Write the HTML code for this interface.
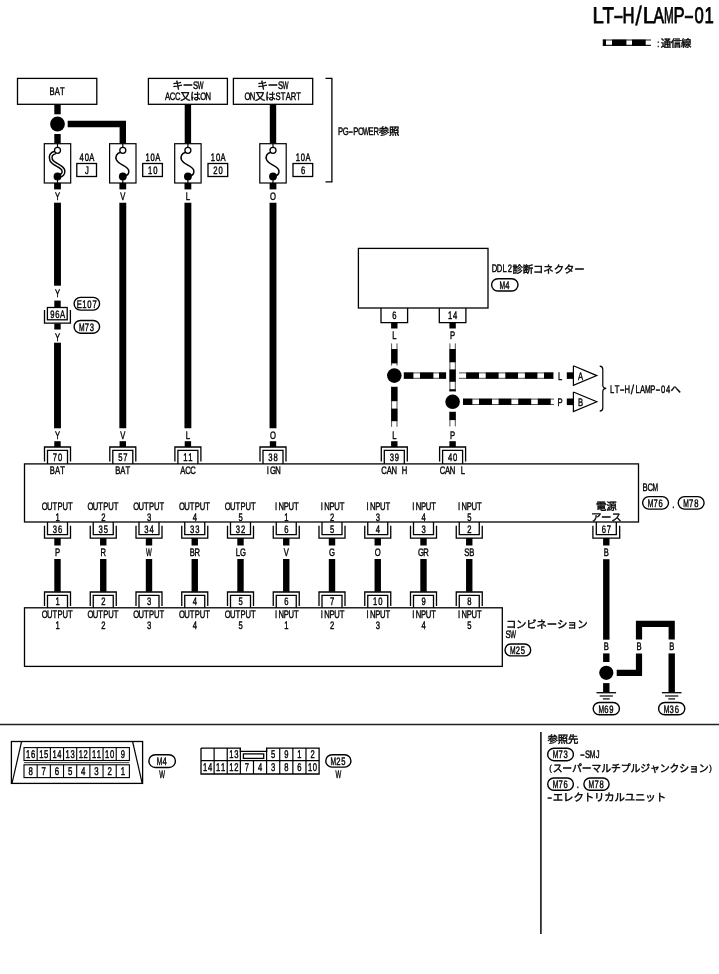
<!DOCTYPE html>
<html lang="ja"><head><meta charset="utf-8"><title>LT-H/LAMP-01</title>
<style>
html,body{margin:0;padding:0;background:#fff;}
body{width:719px;height:974px;overflow:hidden;font-family:"Liberation Sans",sans-serif;}
svg{display:block;filter:grayscale(1);}
svg text{font-family:"Liberation Sans","Noto Sans CJK JP",sans-serif;fill:#000;stroke:#000;stroke-width:0.42px;text-rendering:geometricPrecision;}
</style></head><body>
<svg width="719" height="974" viewBox="0 0 719 974">
<rect width="719" height="974" fill="#fff"/>
<text transform="translate(598.15 23.20) scale(0.903 1.000)" font-size="22.50" text-anchor="middle" x="0" style="stroke-width:0.80px">L</text>
<text transform="translate(608.25 23.20) scale(0.829 1.000)" font-size="22.50" text-anchor="middle" x="0" style="stroke-width:0.80px">T</text>
<text transform="translate(618.35 23.20) scale(1.317 1.000)" font-size="22.50" text-anchor="middle" x="0" style="stroke-width:0.80px">-</text>
<text transform="translate(628.45 23.20) scale(0.740 1)" font-size="22.50" text-anchor="middle" x="0.00" style="stroke-width:0.80px">H</text>
<text transform="translate(638.55 25.11) scale(1.073 1.200)" font-size="22.50" text-anchor="middle" x="0" style="stroke-width:0.25px">/</text>
<text transform="translate(648.65 23.20) scale(0.903 1.000)" font-size="22.50" text-anchor="middle" x="0" style="stroke-width:0.80px">L</text>
<text transform="translate(658.75 23.20) scale(0.703 1.000)" font-size="22.50" text-anchor="middle" x="0" style="stroke-width:0.80px">A</text>
<text transform="translate(668.85 23.20) scale(0.518 1.000)" font-size="22.50" text-anchor="middle" x="0" style="stroke-width:0.80px">M</text>
<text transform="translate(678.95 23.20) scale(0.740 1)" font-size="22.50" text-anchor="middle" x="0.00" style="stroke-width:0.80px">P</text>
<text transform="translate(689.05 23.20) scale(1.317 1.000)" font-size="22.50" text-anchor="middle" x="0" style="stroke-width:0.80px">-</text>
<text transform="translate(699.15 23.20) scale(0.740 1)" font-size="22.50" text-anchor="middle" x="0.00 13.65" style="stroke-width:0.80px">01</text>
<line x1="602.80" y1="40.00" x2="651.00" y2="40.00" stroke="#222" stroke-width="1.10" stroke-linecap="butt"/>
<line x1="602.80" y1="45.40" x2="651.00" y2="45.40" stroke="#222" stroke-width="1.10" stroke-linecap="butt"/>
<line x1="602.80" y1="42.70" x2="606.00" y2="42.70" stroke="#000" stroke-width="6.20" stroke-linecap="butt"/>
<line x1="612.00" y1="42.70" x2="626.40" y2="42.70" stroke="#000" stroke-width="6.20" stroke-linecap="butt"/>
<line x1="632.00" y1="42.70" x2="645.70" y2="42.70" stroke="#000" stroke-width="6.20" stroke-linecap="butt"/>
<text transform="translate(658.30 46.50) scale(0.700 1)" font-size="10.00" text-anchor="middle" x="0.00">:</text>
<text font-size="10.40" x="660.67 670.82 680.97" y="46.70">通信線</text>
<rect x="17.50" y="78.40" width="79.30" height="25.90" fill="none" stroke="#000" stroke-width="1.30"/>
<rect x="148.40" y="78.40" width="79.00" height="25.90" fill="none" stroke="#000" stroke-width="1.30"/>
<rect x="233.40" y="78.40" width="79.30" height="25.90" fill="none" stroke="#000" stroke-width="1.30"/>
<text transform="translate(52.10 95.30) scale(0.700 1)" font-size="10.90" text-anchor="middle" x="0.00 7.29 14.57">BAT</text>
<text font-size="10.40" x="172.50 182.70" y="89.30">キー</text>
<text transform="translate(195.55 88.90) scale(0.700 1)" font-size="10.90" text-anchor="middle" x="0.00">S</text>
<text transform="translate(200.65 88.90) scale(0.560 1.000)" font-size="10.90" text-anchor="middle" x="0">W</text>
<text transform="translate(167.50 99.50) scale(0.700 1)" font-size="10.90" text-anchor="middle" x="0.00 7.29 14.57">ACC</text>
<text font-size="10.40" x="180.15 190.35" y="99.90">又は</text>
<text transform="translate(203.20 99.50) scale(0.700 1)" font-size="10.90" text-anchor="middle" x="0.00 7.29">ON</text>
<text font-size="10.40" x="257.60 267.80" y="89.30">キー</text>
<text transform="translate(280.65 88.90) scale(0.700 1)" font-size="10.90" text-anchor="middle" x="0.00">S</text>
<text transform="translate(285.75 88.90) scale(0.560 1.000)" font-size="10.90" text-anchor="middle" x="0">W</text>
<text transform="translate(247.50 99.50) scale(0.700 1)" font-size="10.90" text-anchor="middle" x="0.00 7.29">ON</text>
<text font-size="10.40" x="255.05 265.25" y="99.90">又は</text>
<text transform="translate(278.10 99.50) scale(0.700 1)" font-size="10.90" text-anchor="middle" x="0.00 7.29 14.57 21.86 29.14">START</text>
<polyline points="325.50,78.40 331.90,78.40 331.90,181.80 325.50,181.80" fill="none" stroke="#000" stroke-width="1.30" stroke-linejoin="miter"/>
<text transform="translate(340.55 134.50) scale(0.700 1)" font-size="10.90" text-anchor="middle" x="0.00 7.29">PG</text>
<text transform="translate(350.75 134.50) scale(1.330 1.000)" font-size="10.90" text-anchor="middle" x="0">-</text>
<text transform="translate(355.85 134.50) scale(0.700 1)" font-size="10.90" text-anchor="middle" x="0.00 7.29">PO</text>
<text transform="translate(366.05 134.50) scale(0.560 1.000)" font-size="10.90" text-anchor="middle" x="0">W</text>
<text transform="translate(371.15 134.50) scale(0.700 1)" font-size="10.90" text-anchor="middle" x="0.00 7.29">ER</text>
<text font-size="10.40" x="378.70 388.90" y="134.70">参照</text>
<line x1="57.50" y1="104.30" x2="57.50" y2="114.30" stroke="#000" stroke-width="6.40" stroke-linecap="butt"/>
<circle cx="57.50" cy="124.00" r="7.40" fill="#000"/>
<line x1="57.50" y1="134.00" x2="57.50" y2="143.70" stroke="#000" stroke-width="6.40" stroke-linecap="butt"/>
<polyline points="67.70,124.00 122.80,124.00 122.80,143.70" fill="none" stroke="#000" stroke-width="6.40" stroke-linejoin="miter"/>
<line x1="187.90" y1="104.30" x2="187.90" y2="143.70" stroke="#000" stroke-width="6.40" stroke-linecap="butt"/>
<line x1="273.00" y1="104.30" x2="273.00" y2="143.70" stroke="#000" stroke-width="6.40" stroke-linecap="butt"/>
<rect x="44.30" y="143.70" width="26.40" height="39.30" fill="#fff" stroke="#000" stroke-width="1.20"/>
<line x1="57.50" y1="143.70" x2="57.50" y2="147.50" stroke="#000" stroke-width="1.20" stroke-linecap="butt"/>
<path d="M55.50 152.3 C51.00 153.5 49.70 156.5 51.20 160.0 C53.50 165.0 62.30 165.5 63.40 170.5 C64.00 174.0 62.00 175.5 59.00 176.0" fill="none" stroke="#000" stroke-width="4.2"/>
<path d="M55.50 152.3 C51.00 153.5 49.70 156.5 51.20 160.0 C53.50 165.0 62.30 165.5 63.40 170.5 C64.00 174.0 62.00 175.5 59.00 176.0" fill="none" stroke="#fff" stroke-width="1.3"/>
<circle cx="57.50" cy="150.3" r="3.0" fill="#fff" stroke="#000" stroke-width="1.3"/>
<circle cx="57.50" cy="176.40" r="3.90" fill="#000"/>
<line x1="57.50" y1="176.50" x2="57.50" y2="183.00" stroke="#000" stroke-width="1.20" stroke-linecap="butt"/>
<line x1="57.50" y1="183.00" x2="57.50" y2="189.40" stroke="#000" stroke-width="6.80" stroke-linecap="butt"/>
<rect x="109.60" y="143.70" width="26.40" height="39.30" fill="#fff" stroke="#000" stroke-width="1.20"/>
<line x1="122.80" y1="143.70" x2="122.80" y2="147.50" stroke="#000" stroke-width="1.20" stroke-linecap="butt"/>
<path d="M120.80 152.3 C116.30 153.5 115.00 156.5 116.50 160.0 C118.80 165.0 127.60 165.5 128.70 170.5 C129.30 174.0 127.30 175.5 124.30 176.0" fill="none" stroke="#000" stroke-width="1.5"/>
<circle cx="122.80" cy="150.3" r="3.0" fill="#fff" stroke="#000" stroke-width="1.3"/>
<circle cx="122.80" cy="176.40" r="3.90" fill="#000"/>
<line x1="122.80" y1="176.50" x2="122.80" y2="183.00" stroke="#000" stroke-width="1.20" stroke-linecap="butt"/>
<line x1="122.80" y1="183.00" x2="122.80" y2="189.40" stroke="#000" stroke-width="6.80" stroke-linecap="butt"/>
<rect x="174.70" y="143.70" width="26.40" height="39.30" fill="#fff" stroke="#000" stroke-width="1.20"/>
<line x1="187.90" y1="143.70" x2="187.90" y2="147.50" stroke="#000" stroke-width="1.20" stroke-linecap="butt"/>
<path d="M185.90 152.3 C181.40 153.5 180.10 156.5 181.60 160.0 C183.90 165.0 192.70 165.5 193.80 170.5 C194.40 174.0 192.40 175.5 189.40 176.0" fill="none" stroke="#000" stroke-width="1.5"/>
<circle cx="187.90" cy="150.3" r="3.0" fill="#fff" stroke="#000" stroke-width="1.3"/>
<circle cx="187.90" cy="176.40" r="3.90" fill="#000"/>
<line x1="187.90" y1="176.50" x2="187.90" y2="183.00" stroke="#000" stroke-width="1.20" stroke-linecap="butt"/>
<line x1="187.90" y1="183.00" x2="187.90" y2="189.40" stroke="#000" stroke-width="6.80" stroke-linecap="butt"/>
<rect x="259.80" y="143.70" width="26.40" height="39.30" fill="#fff" stroke="#000" stroke-width="1.20"/>
<line x1="273.00" y1="143.70" x2="273.00" y2="147.50" stroke="#000" stroke-width="1.20" stroke-linecap="butt"/>
<path d="M271.00 152.3 C266.50 153.5 265.20 156.5 266.70 160.0 C269.00 165.0 277.80 165.5 278.90 170.5 C279.50 174.0 277.50 175.5 274.50 176.0" fill="none" stroke="#000" stroke-width="1.5"/>
<circle cx="273.00" cy="150.3" r="3.0" fill="#fff" stroke="#000" stroke-width="1.3"/>
<circle cx="273.00" cy="176.40" r="3.90" fill="#000"/>
<line x1="273.00" y1="176.50" x2="273.00" y2="183.00" stroke="#000" stroke-width="1.20" stroke-linecap="butt"/>
<line x1="273.00" y1="183.00" x2="273.00" y2="189.40" stroke="#000" stroke-width="6.80" stroke-linecap="butt"/>
<text transform="translate(81.70 160.50) scale(0.700 1)" font-size="10.90" text-anchor="middle" x="0.00 7.29 14.57">40A</text>
<rect x="76.80" y="163.50" width="19.70" height="13.00" fill="none" stroke="#000" stroke-width="1.30"/>
<text transform="translate(86.80 173.80) scale(0.700 1)" font-size="10.90" text-anchor="middle" x="0.00">J</text>
<text transform="translate(147.60 160.50) scale(0.700 1)" font-size="10.90" text-anchor="middle" x="0.00 7.29 14.57">10A</text>
<rect x="142.70" y="163.50" width="19.70" height="13.00" fill="none" stroke="#000" stroke-width="1.30"/>
<text transform="translate(150.15 173.80) scale(0.700 1)" font-size="10.90" text-anchor="middle" x="0.00 7.29">10</text>
<text transform="translate(212.90 160.50) scale(0.700 1)" font-size="10.90" text-anchor="middle" x="0.00 7.29 14.57">10A</text>
<rect x="208.00" y="163.50" width="19.70" height="13.00" fill="none" stroke="#000" stroke-width="1.30"/>
<text transform="translate(215.45 173.80) scale(0.700 1)" font-size="10.90" text-anchor="middle" x="0.00 7.29">20</text>
<text transform="translate(297.90 160.50) scale(0.700 1)" font-size="10.90" text-anchor="middle" x="0.00 7.29 14.57">10A</text>
<rect x="293.00" y="163.50" width="19.70" height="13.00" fill="none" stroke="#000" stroke-width="1.30"/>
<text transform="translate(303.00 173.80) scale(0.700 1)" font-size="10.90" text-anchor="middle" x="0.00">6</text>
<text transform="translate(57.50 200.20) scale(0.700 1)" font-size="10.90" text-anchor="middle" x="0.00">Y</text>
<text transform="translate(122.80 200.20) scale(0.700 1)" font-size="10.90" text-anchor="middle" x="0.00">V</text>
<text transform="translate(187.90 200.20) scale(0.700 1)" font-size="10.90" text-anchor="middle" x="0.00">L</text>
<text transform="translate(273.00 200.20) scale(0.700 1)" font-size="10.90" text-anchor="middle" x="0.00">O</text>
<line x1="57.50" y1="202.70" x2="57.50" y2="285.70" stroke="#000" stroke-width="6.90" stroke-linecap="butt"/>
<text transform="translate(57.50 297.40) scale(0.700 1)" font-size="10.90" text-anchor="middle" x="0.00">Y</text>
<line x1="57.50" y1="300.60" x2="57.50" y2="307.00" stroke="#000" stroke-width="6.40" stroke-linecap="butt"/>
<rect x="47.40" y="307.50" width="19.80" height="12.30" fill="none" stroke="#000" stroke-width="1.30"/>
<text transform="translate(52.30 317.50) scale(0.700 1)" font-size="10.90" text-anchor="middle" x="0.00 7.29 14.57">96A</text>
<polyline points="44.50,310.00 44.50,323.10 70.40,323.10 70.40,310.00" fill="none" stroke="#000" stroke-width="1.30" stroke-linejoin="miter"/>
<line x1="57.50" y1="323.50" x2="57.50" y2="329.50" stroke="#000" stroke-width="6.40" stroke-linecap="butt"/>
<text transform="translate(57.50 340.50) scale(0.700 1)" font-size="10.90" text-anchor="middle" x="0.00">Y</text>
<line x1="57.50" y1="342.70" x2="57.50" y2="428.30" stroke="#000" stroke-width="6.90" stroke-linecap="butt"/>
<rect x="74.10" y="297.40" width="25.50" height="12.70" rx="6.35" ry="6.35" fill="#fff" stroke="#000" stroke-width="1.40"/>
<text transform="translate(79.20 307.65) scale(0.700 1)" font-size="10.90" text-anchor="middle" x="0.00 7.29 14.57 21.86">E107</text>
<rect x="74.10" y="320.50" width="25.50" height="12.70" rx="6.35" ry="6.35" fill="#fff" stroke="#000" stroke-width="1.40"/>
<text transform="translate(81.75 330.75) scale(0.616 1.000)" font-size="10.90" text-anchor="middle" x="0">M</text>
<text transform="translate(86.85 330.75) scale(0.700 1)" font-size="10.90" text-anchor="middle" x="0.00 7.29">73</text>
<line x1="122.80" y1="202.70" x2="122.80" y2="428.30" stroke="#000" stroke-width="6.90" stroke-linecap="butt"/>
<line x1="187.90" y1="202.70" x2="187.90" y2="428.30" stroke="#000" stroke-width="6.90" stroke-linecap="butt"/>
<line x1="273.00" y1="202.70" x2="273.00" y2="428.30" stroke="#000" stroke-width="6.90" stroke-linecap="butt"/>
<text transform="translate(57.50 438.70) scale(0.700 1)" font-size="10.90" text-anchor="middle" x="0.00">Y</text>
<line x1="57.50" y1="441.20" x2="57.50" y2="447.00" stroke="#000" stroke-width="6.40" stroke-linecap="butt"/>
<polyline points="44.50,461.50 44.50,447.00 70.50,447.00 70.50,461.50" fill="none" stroke="#000" stroke-width="1.30" stroke-linejoin="miter"/>
<polyline points="47.50,463.90 47.50,450.40 67.50,450.40 67.50,463.90" fill="none" stroke="#000" stroke-width="1.30" stroke-linejoin="miter"/>
<text transform="translate(54.95 461.00) scale(0.700 1)" font-size="10.90" text-anchor="middle" x="0.00 7.29">70</text>
<text transform="translate(52.40 474.30) scale(0.700 1)" font-size="10.90" text-anchor="middle" x="0.00 7.29 14.57">BAT</text>
<text transform="translate(122.80 438.70) scale(0.700 1)" font-size="10.90" text-anchor="middle" x="0.00">V</text>
<line x1="122.80" y1="441.20" x2="122.80" y2="447.00" stroke="#000" stroke-width="6.40" stroke-linecap="butt"/>
<polyline points="109.80,461.50 109.80,447.00 135.80,447.00 135.80,461.50" fill="none" stroke="#000" stroke-width="1.30" stroke-linejoin="miter"/>
<polyline points="112.80,463.90 112.80,450.40 132.80,450.40 132.80,463.90" fill="none" stroke="#000" stroke-width="1.30" stroke-linejoin="miter"/>
<text transform="translate(120.25 461.00) scale(0.700 1)" font-size="10.90" text-anchor="middle" x="0.00 7.29">57</text>
<text transform="translate(117.70 474.30) scale(0.700 1)" font-size="10.90" text-anchor="middle" x="0.00 7.29 14.57">BAT</text>
<text transform="translate(187.90 438.70) scale(0.700 1)" font-size="10.90" text-anchor="middle" x="0.00">L</text>
<line x1="187.90" y1="441.20" x2="187.90" y2="447.00" stroke="#000" stroke-width="6.40" stroke-linecap="butt"/>
<polyline points="174.90,461.50 174.90,447.00 200.90,447.00 200.90,461.50" fill="none" stroke="#000" stroke-width="1.30" stroke-linejoin="miter"/>
<polyline points="177.90,463.90 177.90,450.40 197.90,450.40 197.90,463.90" fill="none" stroke="#000" stroke-width="1.30" stroke-linejoin="miter"/>
<text transform="translate(185.35 461.00) scale(0.700 1)" font-size="10.90" text-anchor="middle" x="0.00 7.29">11</text>
<text transform="translate(182.80 474.30) scale(0.700 1)" font-size="10.90" text-anchor="middle" x="0.00 7.29 14.57">ACC</text>
<text transform="translate(273.00 438.70) scale(0.700 1)" font-size="10.90" text-anchor="middle" x="0.00">O</text>
<line x1="273.00" y1="441.20" x2="273.00" y2="447.00" stroke="#000" stroke-width="6.40" stroke-linecap="butt"/>
<polyline points="260.00,461.50 260.00,447.00 286.00,447.00 286.00,461.50" fill="none" stroke="#000" stroke-width="1.30" stroke-linejoin="miter"/>
<polyline points="263.00,463.90 263.00,450.40 283.00,450.40 283.00,463.90" fill="none" stroke="#000" stroke-width="1.30" stroke-linejoin="miter"/>
<text transform="translate(270.45 461.00) scale(0.700 1)" font-size="10.90" text-anchor="middle" x="0.00 7.29">38</text>
<text transform="translate(267.90 474.30) scale(0.700 1)" font-size="10.90" text-anchor="middle" x="0.00 7.29 14.57">IGN</text>
<text transform="translate(394.30 438.70) scale(0.700 1)" font-size="10.90" text-anchor="middle" x="0.00">L</text>
<line x1="394.30" y1="441.20" x2="394.30" y2="447.00" stroke="#000" stroke-width="6.40" stroke-linecap="butt"/>
<polyline points="381.30,461.50 381.30,447.00 407.30,447.00 407.30,461.50" fill="none" stroke="#000" stroke-width="1.30" stroke-linejoin="miter"/>
<polyline points="384.30,463.90 384.30,450.40 404.30,450.40 404.30,463.90" fill="none" stroke="#000" stroke-width="1.30" stroke-linejoin="miter"/>
<text transform="translate(391.75 461.00) scale(0.700 1)" font-size="10.90" text-anchor="middle" x="0.00 7.29">39</text>
<text transform="translate(384.10 474.30) scale(0.700 1)" font-size="10.90" text-anchor="middle" x="0.00 7.29 14.57 21.86 29.14">CAN H</text>
<text transform="translate(452.60 438.70) scale(0.700 1)" font-size="10.90" text-anchor="middle" x="0.00">P</text>
<line x1="452.60" y1="441.20" x2="452.60" y2="447.00" stroke="#000" stroke-width="6.40" stroke-linecap="butt"/>
<polyline points="439.60,461.50 439.60,447.00 465.60,447.00 465.60,461.50" fill="none" stroke="#000" stroke-width="1.30" stroke-linejoin="miter"/>
<polyline points="442.60,463.90 442.60,450.40 462.60,450.40 462.60,463.90" fill="none" stroke="#000" stroke-width="1.30" stroke-linejoin="miter"/>
<text transform="translate(450.05 461.00) scale(0.700 1)" font-size="10.90" text-anchor="middle" x="0.00 7.29">40</text>
<text transform="translate(442.40 474.30) scale(0.700 1)" font-size="10.90" text-anchor="middle" x="0.00 7.29 14.57 21.86 29.14">CAN L</text>
<rect x="24.50" y="463.90" width="614.00" height="58.10" fill="none" stroke="#000" stroke-width="1.30"/>
<text transform="translate(645.15 490.60) scale(0.700 1)" font-size="10.90" text-anchor="middle" x="0.00 7.29">BC</text>
<text transform="translate(655.35 490.60) scale(0.616 1.000)" font-size="10.90" text-anchor="middle" x="0">M</text>
<rect x="642.60" y="496.60" width="25.90" height="12.50" rx="6.25" ry="6.25" fill="#fff" stroke="#000" stroke-width="1.40"/>
<text transform="translate(650.45 506.75) scale(0.616 1.000)" font-size="10.90" text-anchor="middle" x="0">M</text>
<text transform="translate(655.55 506.75) scale(0.700 1)" font-size="10.90" text-anchor="middle" x="0.00 7.29">76</text>
<text transform="translate(673.30 508.00) scale(0.700 1)" font-size="10.90" text-anchor="middle" x="0.00">.</text>
<rect x="678.20" y="496.60" width="25.90" height="12.50" rx="6.25" ry="6.25" fill="#fff" stroke="#000" stroke-width="1.40"/>
<text transform="translate(686.05 506.75) scale(0.616 1.000)" font-size="10.90" text-anchor="middle" x="0">M</text>
<text transform="translate(691.15 506.75) scale(0.700 1)" font-size="10.90" text-anchor="middle" x="0.00 7.29">78</text>
<rect x="358.40" y="248.40" width="129.60" height="59.60" fill="none" stroke="#000" stroke-width="1.30"/>
<text transform="translate(494.45 272.30) scale(0.700 1)" font-size="10.90" text-anchor="middle" x="0.00 7.29 14.57 21.86">DDL2</text>
<text font-size="10.40" x="512.45 522.75 533.05 543.35 553.65 563.95 574.25" y="272.60">診断コネクター</text>
<rect x="491.60" y="278.70" width="26.40" height="12.30" rx="6.15" ry="6.15" fill="#fff" stroke="#000" stroke-width="1.40"/>
<text transform="translate(502.25 288.75) scale(0.616 1.000)" font-size="10.90" text-anchor="middle" x="0">M</text>
<text transform="translate(507.35 288.75) scale(0.700 1)" font-size="10.90" text-anchor="middle" x="0.00">4</text>
<polyline points="381.00,308.00 381.00,322.60 407.60,322.60 407.60,308.00" fill="none" stroke="#000" stroke-width="1.30" stroke-linejoin="miter"/>
<text transform="translate(394.30 319.00) scale(0.700 1)" font-size="10.90" text-anchor="middle" x="0.00">6</text>
<line x1="394.30" y1="322.80" x2="394.30" y2="328.50" stroke="#000" stroke-width="6.40" stroke-linecap="butt"/>
<text transform="translate(394.30 339.30) scale(0.700 1)" font-size="10.90" text-anchor="middle" x="0.00">L</text>
<polyline points="439.30,308.00 439.30,322.60 465.90,322.60 465.90,308.00" fill="none" stroke="#000" stroke-width="1.30" stroke-linejoin="miter"/>
<text transform="translate(450.05 319.00) scale(0.700 1)" font-size="10.90" text-anchor="middle" x="0.00 7.29">14</text>
<line x1="452.60" y1="322.80" x2="452.60" y2="328.50" stroke="#000" stroke-width="6.40" stroke-linecap="butt"/>
<text transform="translate(452.60 339.30) scale(0.700 1)" font-size="10.90" text-anchor="middle" x="0.00">P</text>
<line x1="391.60" y1="343.40" x2="391.60" y2="365.60" stroke="#222" stroke-width="0.80" stroke-linecap="butt"/>
<line x1="397.00" y1="343.40" x2="397.00" y2="365.60" stroke="#222" stroke-width="0.80" stroke-linecap="butt"/>
<line x1="394.30" y1="349.00" x2="394.30" y2="363.40" stroke="#000" stroke-width="6.20" stroke-linecap="butt"/>
<line x1="391.60" y1="386.80" x2="391.60" y2="426.80" stroke="#222" stroke-width="0.80" stroke-linecap="butt"/>
<line x1="397.00" y1="386.80" x2="397.00" y2="426.80" stroke="#222" stroke-width="0.80" stroke-linecap="butt"/>
<line x1="394.30" y1="386.80" x2="394.30" y2="401.20" stroke="#000" stroke-width="6.20" stroke-linecap="butt"/>
<line x1="394.30" y1="408.60" x2="394.30" y2="421.20" stroke="#000" stroke-width="6.20" stroke-linecap="butt"/>
<line x1="449.90" y1="343.40" x2="449.90" y2="391.40" stroke="#222" stroke-width="0.80" stroke-linecap="butt"/>
<line x1="455.30" y1="343.40" x2="455.30" y2="391.40" stroke="#222" stroke-width="0.80" stroke-linecap="butt"/>
<line x1="452.60" y1="349.00" x2="452.60" y2="362.30" stroke="#000" stroke-width="6.20" stroke-linecap="butt"/>
<line x1="452.60" y1="369.40" x2="452.60" y2="381.80" stroke="#000" stroke-width="6.20" stroke-linecap="butt"/>
<line x1="452.60" y1="389.20" x2="452.60" y2="391.40" stroke="#000" stroke-width="6.20" stroke-linecap="butt"/>
<line x1="449.90" y1="411.80" x2="449.90" y2="426.40" stroke="#222" stroke-width="0.80" stroke-linecap="butt"/>
<line x1="455.30" y1="411.80" x2="455.30" y2="426.40" stroke="#222" stroke-width="0.80" stroke-linecap="butt"/>
<line x1="452.60" y1="411.80" x2="452.60" y2="420.10" stroke="#000" stroke-width="6.20" stroke-linecap="butt"/>
<line x1="403.80" y1="372.90" x2="446.10" y2="372.90" stroke="#222" stroke-width="0.80" stroke-linecap="butt"/>
<line x1="403.80" y1="378.30" x2="446.10" y2="378.30" stroke="#222" stroke-width="0.80" stroke-linecap="butt"/>
<line x1="403.80" y1="375.60" x2="413.40" y2="375.60" stroke="#000" stroke-width="6.20" stroke-linecap="butt"/>
<line x1="420.00" y1="375.60" x2="433.40" y2="375.60" stroke="#000" stroke-width="6.20" stroke-linecap="butt"/>
<line x1="439.00" y1="375.60" x2="446.10" y2="375.60" stroke="#000" stroke-width="6.20" stroke-linecap="butt"/>
<line x1="459.00" y1="372.90" x2="553.40" y2="372.90" stroke="#222" stroke-width="0.80" stroke-linecap="butt"/>
<line x1="459.00" y1="378.30" x2="553.40" y2="378.30" stroke="#222" stroke-width="0.80" stroke-linecap="butt"/>
<line x1="466.10" y1="375.60" x2="479.00" y2="375.60" stroke="#000" stroke-width="6.20" stroke-linecap="butt"/>
<line x1="485.70" y1="375.60" x2="498.60" y2="375.60" stroke="#000" stroke-width="6.20" stroke-linecap="butt"/>
<line x1="505.30" y1="375.60" x2="518.00" y2="375.60" stroke="#000" stroke-width="6.20" stroke-linecap="butt"/>
<line x1="524.90" y1="375.60" x2="537.40" y2="375.60" stroke="#000" stroke-width="6.20" stroke-linecap="butt"/>
<line x1="544.00" y1="375.60" x2="553.40" y2="375.60" stroke="#000" stroke-width="6.20" stroke-linecap="butt"/>
<line x1="463.00" y1="399.10" x2="554.10" y2="399.10" stroke="#222" stroke-width="0.80" stroke-linecap="butt"/>
<line x1="463.00" y1="404.50" x2="554.10" y2="404.50" stroke="#222" stroke-width="0.80" stroke-linecap="butt"/>
<line x1="463.00" y1="401.80" x2="472.40" y2="401.80" stroke="#000" stroke-width="6.20" stroke-linecap="butt"/>
<line x1="479.00" y1="401.80" x2="492.00" y2="401.80" stroke="#000" stroke-width="6.20" stroke-linecap="butt"/>
<line x1="498.60" y1="401.80" x2="511.40" y2="401.80" stroke="#000" stroke-width="6.20" stroke-linecap="butt"/>
<line x1="518.20" y1="401.80" x2="531.20" y2="401.80" stroke="#000" stroke-width="6.20" stroke-linecap="butt"/>
<line x1="537.80" y1="401.80" x2="550.70" y2="401.80" stroke="#000" stroke-width="6.20" stroke-linecap="butt"/>
<circle cx="394.30" cy="375.60" r="7.30" fill="#000"/>
<circle cx="452.60" cy="401.80" r="7.30" fill="#000"/>
<text transform="translate(560.00 379.50) scale(0.700 1)" font-size="10.90" text-anchor="middle" x="0.00">L</text>
<text transform="translate(560.00 405.70) scale(0.700 1)" font-size="10.90" text-anchor="middle" x="0.00">P</text>
<line x1="566.80" y1="375.60" x2="573.40" y2="375.60" stroke="#000" stroke-width="6.60" stroke-linecap="butt"/>
<line x1="566.80" y1="401.80" x2="573.40" y2="401.80" stroke="#000" stroke-width="6.60" stroke-linecap="butt"/>
<polyline points="573.40,365.80 596.80,375.60 573.40,385.40 573.40,365.80" fill="#fff" stroke="#000" stroke-width="1.20" stroke-linejoin="miter"/>
<text transform="translate(580.60 379.50) scale(0.700 1)" font-size="10.90" text-anchor="middle" x="0.00">A</text>
<polyline points="573.40,392.00 596.80,401.80 573.40,411.60 573.40,392.00" fill="#fff" stroke="#000" stroke-width="1.20" stroke-linejoin="miter"/>
<text transform="translate(580.60 405.70) scale(0.700 1)" font-size="10.90" text-anchor="middle" x="0.00">B</text>
<path d="M599.7 366.2 Q602.8 366.4 602.8 369.5 L602.8 385.3 Q602.8 388.1 606.2 388.4 Q602.8 388.7 602.8 391.5 L602.8 408 Q602.8 411 599.7 411.2" fill="none" stroke="#000" stroke-width="1.2"/>
<text transform="translate(612.05 392.60) scale(0.700 1)" font-size="10.90" text-anchor="middle" x="0.00 7.29">LT</text>
<text transform="translate(622.25 392.60) scale(1.330 1.000)" font-size="10.90" text-anchor="middle" x="0">-</text>
<text transform="translate(627.35 392.60) scale(0.700 1)" font-size="10.90" text-anchor="middle" x="0.00">H</text>
<text transform="translate(632.45 393.53) scale(1.120 1.200)" font-size="10.90" text-anchor="middle" x="0" style="stroke-width:0.20px">/</text>
<text transform="translate(637.55 392.60) scale(0.700 1)" font-size="10.90" text-anchor="middle" x="0.00 7.29">LA</text>
<text transform="translate(647.75 392.60) scale(0.616 1.000)" font-size="10.90" text-anchor="middle" x="0">M</text>
<text transform="translate(652.85 392.60) scale(0.700 1)" font-size="10.90" text-anchor="middle" x="0.00">P</text>
<text transform="translate(657.95 392.60) scale(1.330 1.000)" font-size="10.90" text-anchor="middle" x="0">-</text>
<text transform="translate(663.05 392.60) scale(0.700 1)" font-size="10.90" text-anchor="middle" x="0.00 7.29">04</text>
<text font-size="10.40" x="670.60" y="392.90">へ</text>
<text transform="translate(44.75 510.20) scale(0.700 1)" font-size="10.90" text-anchor="middle" x="0.00 7.29 14.57 21.86 29.14 36.43">OUTPUT</text>
<text transform="translate(57.50 520.50) scale(0.700 1)" font-size="10.90" text-anchor="middle" x="0.00">1</text>
<polyline points="47.50,522.00 47.50,534.60 67.50,534.60 67.50,522.00" fill="none" stroke="#000" stroke-width="1.30" stroke-linejoin="miter"/>
<polyline points="44.50,525.80 44.50,538.10 70.50,538.10 70.50,525.80" fill="none" stroke="#000" stroke-width="1.30" stroke-linejoin="miter"/>
<text transform="translate(54.95 532.60) scale(0.700 1)" font-size="10.90" text-anchor="middle" x="0.00 7.29">36</text>
<line x1="57.50" y1="538.00" x2="57.50" y2="545.50" stroke="#000" stroke-width="6.40" stroke-linecap="butt"/>
<text transform="translate(57.50 555.80) scale(0.700 1)" font-size="10.90" text-anchor="middle" x="0.00">P</text>
<line x1="57.50" y1="559.00" x2="57.50" y2="591.80" stroke="#000" stroke-width="6.40" stroke-linecap="butt"/>
<polyline points="44.50,606.00 44.50,592.00 70.50,592.00 70.50,606.00" fill="none" stroke="#000" stroke-width="1.30" stroke-linejoin="miter"/>
<polyline points="47.50,607.80 47.50,595.40 67.50,595.40 67.50,607.80" fill="none" stroke="#000" stroke-width="1.30" stroke-linejoin="miter"/>
<text transform="translate(57.50 605.20) scale(0.700 1)" font-size="10.90" text-anchor="middle" x="0.00">1</text>
<text transform="translate(44.75 618.20) scale(0.700 1)" font-size="10.90" text-anchor="middle" x="0.00 7.29 14.57 21.86 29.14 36.43">OUTPUT</text>
<text transform="translate(57.50 628.60) scale(0.700 1)" font-size="10.90" text-anchor="middle" x="0.00">1</text>
<text transform="translate(90.50 510.20) scale(0.700 1)" font-size="10.90" text-anchor="middle" x="0.00 7.29 14.57 21.86 29.14 36.43">OUTPUT</text>
<text transform="translate(103.25 520.50) scale(0.700 1)" font-size="10.90" text-anchor="middle" x="0.00">2</text>
<polyline points="93.25,522.00 93.25,534.60 113.25,534.60 113.25,522.00" fill="none" stroke="#000" stroke-width="1.30" stroke-linejoin="miter"/>
<polyline points="90.25,525.80 90.25,538.10 116.25,538.10 116.25,525.80" fill="none" stroke="#000" stroke-width="1.30" stroke-linejoin="miter"/>
<text transform="translate(100.70 532.60) scale(0.700 1)" font-size="10.90" text-anchor="middle" x="0.00 7.29">35</text>
<line x1="103.25" y1="538.00" x2="103.25" y2="545.50" stroke="#000" stroke-width="6.40" stroke-linecap="butt"/>
<text transform="translate(103.25 555.80) scale(0.700 1)" font-size="10.90" text-anchor="middle" x="0.00">R</text>
<line x1="103.25" y1="559.00" x2="103.25" y2="591.80" stroke="#000" stroke-width="6.40" stroke-linecap="butt"/>
<polyline points="90.25,606.00 90.25,592.00 116.25,592.00 116.25,606.00" fill="none" stroke="#000" stroke-width="1.30" stroke-linejoin="miter"/>
<polyline points="93.25,607.80 93.25,595.40 113.25,595.40 113.25,607.80" fill="none" stroke="#000" stroke-width="1.30" stroke-linejoin="miter"/>
<text transform="translate(103.25 605.20) scale(0.700 1)" font-size="10.90" text-anchor="middle" x="0.00">2</text>
<text transform="translate(90.50 618.20) scale(0.700 1)" font-size="10.90" text-anchor="middle" x="0.00 7.29 14.57 21.86 29.14 36.43">OUTPUT</text>
<text transform="translate(103.25 628.60) scale(0.700 1)" font-size="10.90" text-anchor="middle" x="0.00">2</text>
<text transform="translate(136.25 510.20) scale(0.700 1)" font-size="10.90" text-anchor="middle" x="0.00 7.29 14.57 21.86 29.14 36.43">OUTPUT</text>
<text transform="translate(149.00 520.50) scale(0.700 1)" font-size="10.90" text-anchor="middle" x="0.00">3</text>
<polyline points="139.00,522.00 139.00,534.60 159.00,534.60 159.00,522.00" fill="none" stroke="#000" stroke-width="1.30" stroke-linejoin="miter"/>
<polyline points="136.00,525.80 136.00,538.10 162.00,538.10 162.00,525.80" fill="none" stroke="#000" stroke-width="1.30" stroke-linejoin="miter"/>
<text transform="translate(146.45 532.60) scale(0.700 1)" font-size="10.90" text-anchor="middle" x="0.00 7.29">34</text>
<line x1="149.00" y1="538.00" x2="149.00" y2="545.50" stroke="#000" stroke-width="6.40" stroke-linecap="butt"/>
<text transform="translate(149.00 555.80) scale(0.560 1.000)" font-size="10.90" text-anchor="middle" x="0">W</text>
<line x1="149.00" y1="559.00" x2="149.00" y2="591.80" stroke="#000" stroke-width="6.40" stroke-linecap="butt"/>
<polyline points="136.00,606.00 136.00,592.00 162.00,592.00 162.00,606.00" fill="none" stroke="#000" stroke-width="1.30" stroke-linejoin="miter"/>
<polyline points="139.00,607.80 139.00,595.40 159.00,595.40 159.00,607.80" fill="none" stroke="#000" stroke-width="1.30" stroke-linejoin="miter"/>
<text transform="translate(149.00 605.20) scale(0.700 1)" font-size="10.90" text-anchor="middle" x="0.00">3</text>
<text transform="translate(136.25 618.20) scale(0.700 1)" font-size="10.90" text-anchor="middle" x="0.00 7.29 14.57 21.86 29.14 36.43">OUTPUT</text>
<text transform="translate(149.00 628.60) scale(0.700 1)" font-size="10.90" text-anchor="middle" x="0.00">3</text>
<text transform="translate(182.00 510.20) scale(0.700 1)" font-size="10.90" text-anchor="middle" x="0.00 7.29 14.57 21.86 29.14 36.43">OUTPUT</text>
<text transform="translate(194.75 520.50) scale(0.700 1)" font-size="10.90" text-anchor="middle" x="0.00">4</text>
<polyline points="184.75,522.00 184.75,534.60 204.75,534.60 204.75,522.00" fill="none" stroke="#000" stroke-width="1.30" stroke-linejoin="miter"/>
<polyline points="181.75,525.80 181.75,538.10 207.75,538.10 207.75,525.80" fill="none" stroke="#000" stroke-width="1.30" stroke-linejoin="miter"/>
<text transform="translate(192.20 532.60) scale(0.700 1)" font-size="10.90" text-anchor="middle" x="0.00 7.29">33</text>
<line x1="194.75" y1="538.00" x2="194.75" y2="545.50" stroke="#000" stroke-width="6.40" stroke-linecap="butt"/>
<text transform="translate(192.20 555.80) scale(0.700 1)" font-size="10.90" text-anchor="middle" x="0.00 7.29">BR</text>
<line x1="194.75" y1="559.00" x2="194.75" y2="591.80" stroke="#000" stroke-width="6.40" stroke-linecap="butt"/>
<polyline points="181.75,606.00 181.75,592.00 207.75,592.00 207.75,606.00" fill="none" stroke="#000" stroke-width="1.30" stroke-linejoin="miter"/>
<polyline points="184.75,607.80 184.75,595.40 204.75,595.40 204.75,607.80" fill="none" stroke="#000" stroke-width="1.30" stroke-linejoin="miter"/>
<text transform="translate(194.75 605.20) scale(0.700 1)" font-size="10.90" text-anchor="middle" x="0.00">4</text>
<text transform="translate(182.00 618.20) scale(0.700 1)" font-size="10.90" text-anchor="middle" x="0.00 7.29 14.57 21.86 29.14 36.43">OUTPUT</text>
<text transform="translate(194.75 628.60) scale(0.700 1)" font-size="10.90" text-anchor="middle" x="0.00">4</text>
<text transform="translate(227.75 510.20) scale(0.700 1)" font-size="10.90" text-anchor="middle" x="0.00 7.29 14.57 21.86 29.14 36.43">OUTPUT</text>
<text transform="translate(240.50 520.50) scale(0.700 1)" font-size="10.90" text-anchor="middle" x="0.00">5</text>
<polyline points="230.50,522.00 230.50,534.60 250.50,534.60 250.50,522.00" fill="none" stroke="#000" stroke-width="1.30" stroke-linejoin="miter"/>
<polyline points="227.50,525.80 227.50,538.10 253.50,538.10 253.50,525.80" fill="none" stroke="#000" stroke-width="1.30" stroke-linejoin="miter"/>
<text transform="translate(237.95 532.60) scale(0.700 1)" font-size="10.90" text-anchor="middle" x="0.00 7.29">32</text>
<line x1="240.50" y1="538.00" x2="240.50" y2="545.50" stroke="#000" stroke-width="6.40" stroke-linecap="butt"/>
<text transform="translate(237.95 555.80) scale(0.700 1)" font-size="10.90" text-anchor="middle" x="0.00 7.29">LG</text>
<line x1="240.50" y1="559.00" x2="240.50" y2="591.80" stroke="#000" stroke-width="6.40" stroke-linecap="butt"/>
<polyline points="227.50,606.00 227.50,592.00 253.50,592.00 253.50,606.00" fill="none" stroke="#000" stroke-width="1.30" stroke-linejoin="miter"/>
<polyline points="230.50,607.80 230.50,595.40 250.50,595.40 250.50,607.80" fill="none" stroke="#000" stroke-width="1.30" stroke-linejoin="miter"/>
<text transform="translate(240.50 605.20) scale(0.700 1)" font-size="10.90" text-anchor="middle" x="0.00">5</text>
<text transform="translate(227.75 618.20) scale(0.700 1)" font-size="10.90" text-anchor="middle" x="0.00 7.29 14.57 21.86 29.14 36.43">OUTPUT</text>
<text transform="translate(240.50 628.60) scale(0.700 1)" font-size="10.90" text-anchor="middle" x="0.00">5</text>
<text transform="translate(276.05 510.20) scale(0.700 1)" font-size="10.90" text-anchor="middle" x="0.00 7.29 14.57 21.86 29.14">INPUT</text>
<text transform="translate(286.25 520.50) scale(0.700 1)" font-size="10.90" text-anchor="middle" x="0.00">1</text>
<polyline points="276.25,522.00 276.25,534.60 296.25,534.60 296.25,522.00" fill="none" stroke="#000" stroke-width="1.30" stroke-linejoin="miter"/>
<polyline points="273.25,525.80 273.25,538.10 299.25,538.10 299.25,525.80" fill="none" stroke="#000" stroke-width="1.30" stroke-linejoin="miter"/>
<text transform="translate(286.25 532.60) scale(0.700 1)" font-size="10.90" text-anchor="middle" x="0.00">6</text>
<line x1="286.25" y1="538.00" x2="286.25" y2="545.50" stroke="#000" stroke-width="6.40" stroke-linecap="butt"/>
<text transform="translate(286.25 555.80) scale(0.700 1)" font-size="10.90" text-anchor="middle" x="0.00">V</text>
<line x1="286.25" y1="559.00" x2="286.25" y2="591.80" stroke="#000" stroke-width="6.40" stroke-linecap="butt"/>
<polyline points="273.25,606.00 273.25,592.00 299.25,592.00 299.25,606.00" fill="none" stroke="#000" stroke-width="1.30" stroke-linejoin="miter"/>
<polyline points="276.25,607.80 276.25,595.40 296.25,595.40 296.25,607.80" fill="none" stroke="#000" stroke-width="1.30" stroke-linejoin="miter"/>
<text transform="translate(286.25 605.20) scale(0.700 1)" font-size="10.90" text-anchor="middle" x="0.00">6</text>
<text transform="translate(276.05 618.20) scale(0.700 1)" font-size="10.90" text-anchor="middle" x="0.00 7.29 14.57 21.86 29.14">INPUT</text>
<text transform="translate(286.25 628.60) scale(0.700 1)" font-size="10.90" text-anchor="middle" x="0.00">1</text>
<text transform="translate(321.80 510.20) scale(0.700 1)" font-size="10.90" text-anchor="middle" x="0.00 7.29 14.57 21.86 29.14">INPUT</text>
<text transform="translate(332.00 520.50) scale(0.700 1)" font-size="10.90" text-anchor="middle" x="0.00">2</text>
<polyline points="322.00,522.00 322.00,534.60 342.00,534.60 342.00,522.00" fill="none" stroke="#000" stroke-width="1.30" stroke-linejoin="miter"/>
<polyline points="319.00,525.80 319.00,538.10 345.00,538.10 345.00,525.80" fill="none" stroke="#000" stroke-width="1.30" stroke-linejoin="miter"/>
<text transform="translate(332.00 532.60) scale(0.700 1)" font-size="10.90" text-anchor="middle" x="0.00">5</text>
<line x1="332.00" y1="538.00" x2="332.00" y2="545.50" stroke="#000" stroke-width="6.40" stroke-linecap="butt"/>
<text transform="translate(332.00 555.80) scale(0.700 1)" font-size="10.90" text-anchor="middle" x="0.00">G</text>
<line x1="332.00" y1="559.00" x2="332.00" y2="591.80" stroke="#000" stroke-width="6.40" stroke-linecap="butt"/>
<polyline points="319.00,606.00 319.00,592.00 345.00,592.00 345.00,606.00" fill="none" stroke="#000" stroke-width="1.30" stroke-linejoin="miter"/>
<polyline points="322.00,607.80 322.00,595.40 342.00,595.40 342.00,607.80" fill="none" stroke="#000" stroke-width="1.30" stroke-linejoin="miter"/>
<text transform="translate(332.00 605.20) scale(0.700 1)" font-size="10.90" text-anchor="middle" x="0.00">7</text>
<text transform="translate(321.80 618.20) scale(0.700 1)" font-size="10.90" text-anchor="middle" x="0.00 7.29 14.57 21.86 29.14">INPUT</text>
<text transform="translate(332.00 628.60) scale(0.700 1)" font-size="10.90" text-anchor="middle" x="0.00">2</text>
<text transform="translate(367.55 510.20) scale(0.700 1)" font-size="10.90" text-anchor="middle" x="0.00 7.29 14.57 21.86 29.14">INPUT</text>
<text transform="translate(377.75 520.50) scale(0.700 1)" font-size="10.90" text-anchor="middle" x="0.00">3</text>
<polyline points="367.75,522.00 367.75,534.60 387.75,534.60 387.75,522.00" fill="none" stroke="#000" stroke-width="1.30" stroke-linejoin="miter"/>
<polyline points="364.75,525.80 364.75,538.10 390.75,538.10 390.75,525.80" fill="none" stroke="#000" stroke-width="1.30" stroke-linejoin="miter"/>
<text transform="translate(377.75 532.60) scale(0.700 1)" font-size="10.90" text-anchor="middle" x="0.00">4</text>
<line x1="377.75" y1="538.00" x2="377.75" y2="545.50" stroke="#000" stroke-width="6.40" stroke-linecap="butt"/>
<text transform="translate(377.75 555.80) scale(0.700 1)" font-size="10.90" text-anchor="middle" x="0.00">O</text>
<line x1="377.75" y1="559.00" x2="377.75" y2="591.80" stroke="#000" stroke-width="6.40" stroke-linecap="butt"/>
<polyline points="364.75,606.00 364.75,592.00 390.75,592.00 390.75,606.00" fill="none" stroke="#000" stroke-width="1.30" stroke-linejoin="miter"/>
<polyline points="367.75,607.80 367.75,595.40 387.75,595.40 387.75,607.80" fill="none" stroke="#000" stroke-width="1.30" stroke-linejoin="miter"/>
<text transform="translate(375.20 605.20) scale(0.700 1)" font-size="10.90" text-anchor="middle" x="0.00 7.29">10</text>
<text transform="translate(367.55 618.20) scale(0.700 1)" font-size="10.90" text-anchor="middle" x="0.00 7.29 14.57 21.86 29.14">INPUT</text>
<text transform="translate(377.75 628.60) scale(0.700 1)" font-size="10.90" text-anchor="middle" x="0.00">3</text>
<text transform="translate(413.30 510.20) scale(0.700 1)" font-size="10.90" text-anchor="middle" x="0.00 7.29 14.57 21.86 29.14">INPUT</text>
<text transform="translate(423.50 520.50) scale(0.700 1)" font-size="10.90" text-anchor="middle" x="0.00">4</text>
<polyline points="413.50,522.00 413.50,534.60 433.50,534.60 433.50,522.00" fill="none" stroke="#000" stroke-width="1.30" stroke-linejoin="miter"/>
<polyline points="410.50,525.80 410.50,538.10 436.50,538.10 436.50,525.80" fill="none" stroke="#000" stroke-width="1.30" stroke-linejoin="miter"/>
<text transform="translate(423.50 532.60) scale(0.700 1)" font-size="10.90" text-anchor="middle" x="0.00">3</text>
<line x1="423.50" y1="538.00" x2="423.50" y2="545.50" stroke="#000" stroke-width="6.40" stroke-linecap="butt"/>
<text transform="translate(420.95 555.80) scale(0.700 1)" font-size="10.90" text-anchor="middle" x="0.00 7.29">GR</text>
<line x1="423.50" y1="559.00" x2="423.50" y2="591.80" stroke="#000" stroke-width="6.40" stroke-linecap="butt"/>
<polyline points="410.50,606.00 410.50,592.00 436.50,592.00 436.50,606.00" fill="none" stroke="#000" stroke-width="1.30" stroke-linejoin="miter"/>
<polyline points="413.50,607.80 413.50,595.40 433.50,595.40 433.50,607.80" fill="none" stroke="#000" stroke-width="1.30" stroke-linejoin="miter"/>
<text transform="translate(423.50 605.20) scale(0.700 1)" font-size="10.90" text-anchor="middle" x="0.00">9</text>
<text transform="translate(413.30 618.20) scale(0.700 1)" font-size="10.90" text-anchor="middle" x="0.00 7.29 14.57 21.86 29.14">INPUT</text>
<text transform="translate(423.50 628.60) scale(0.700 1)" font-size="10.90" text-anchor="middle" x="0.00">4</text>
<text transform="translate(459.05 510.20) scale(0.700 1)" font-size="10.90" text-anchor="middle" x="0.00 7.29 14.57 21.86 29.14">INPUT</text>
<text transform="translate(469.25 520.50) scale(0.700 1)" font-size="10.90" text-anchor="middle" x="0.00">5</text>
<polyline points="459.25,522.00 459.25,534.60 479.25,534.60 479.25,522.00" fill="none" stroke="#000" stroke-width="1.30" stroke-linejoin="miter"/>
<polyline points="456.25,525.80 456.25,538.10 482.25,538.10 482.25,525.80" fill="none" stroke="#000" stroke-width="1.30" stroke-linejoin="miter"/>
<text transform="translate(469.25 532.60) scale(0.700 1)" font-size="10.90" text-anchor="middle" x="0.00">2</text>
<line x1="469.25" y1="538.00" x2="469.25" y2="545.50" stroke="#000" stroke-width="6.40" stroke-linecap="butt"/>
<text transform="translate(466.70 555.80) scale(0.700 1)" font-size="10.90" text-anchor="middle" x="0.00 7.29">SB</text>
<line x1="469.25" y1="559.00" x2="469.25" y2="591.80" stroke="#000" stroke-width="6.40" stroke-linecap="butt"/>
<polyline points="456.25,606.00 456.25,592.00 482.25,592.00 482.25,606.00" fill="none" stroke="#000" stroke-width="1.30" stroke-linejoin="miter"/>
<polyline points="459.25,607.80 459.25,595.40 479.25,595.40 479.25,607.80" fill="none" stroke="#000" stroke-width="1.30" stroke-linejoin="miter"/>
<text transform="translate(469.25 605.20) scale(0.700 1)" font-size="10.90" text-anchor="middle" x="0.00">8</text>
<text transform="translate(459.05 618.20) scale(0.700 1)" font-size="10.90" text-anchor="middle" x="0.00 7.29 14.57 21.86 29.14">INPUT</text>
<text transform="translate(469.25 628.60) scale(0.700 1)" font-size="10.90" text-anchor="middle" x="0.00">5</text>
<rect x="24.50" y="607.80" width="477.80" height="58.60" fill="none" stroke="#000" stroke-width="1.30"/>
<text font-size="10.40" x="505.90 516.10 526.30 536.50 546.70 556.90 567.10 577.30" y="628.00">コンビネーション</text>
<text transform="translate(508.15 638.20) scale(0.700 1)" font-size="10.90" text-anchor="middle" x="0.00">S</text>
<text transform="translate(513.25 638.20) scale(0.560 1.000)" font-size="10.90" text-anchor="middle" x="0">W</text>
<rect x="505.00" y="644.00" width="25.70" height="11.90" rx="5.95" ry="5.95" fill="#fff" stroke="#000" stroke-width="1.40"/>
<text transform="translate(512.75 653.85) scale(0.616 1.000)" font-size="10.90" text-anchor="middle" x="0">M</text>
<text transform="translate(517.85 653.85) scale(0.700 1)" font-size="10.90" text-anchor="middle" x="0.00 7.29">25</text>
<text font-size="10.40" x="596.00 606.20" y="509.80">電源</text>
<text font-size="10.40" x="590.90 601.10 611.30" y="520.70">アース</text>
<polyline points="596.30,522.00 596.30,534.60 616.30,534.60 616.30,522.00" fill="none" stroke="#000" stroke-width="1.30" stroke-linejoin="miter"/>
<polyline points="592.90,525.80 592.90,538.10 619.70,538.10 619.70,525.80" fill="none" stroke="#000" stroke-width="1.30" stroke-linejoin="miter"/>
<text transform="translate(603.75 532.60) scale(0.700 1)" font-size="10.90" text-anchor="middle" x="0.00 7.29">67</text>
<line x1="606.30" y1="538.00" x2="606.30" y2="545.50" stroke="#000" stroke-width="6.40" stroke-linecap="butt"/>
<text transform="translate(606.30 555.60) scale(0.700 1)" font-size="10.90" text-anchor="middle" x="0.00">B</text>
<line x1="606.30" y1="559.20" x2="606.30" y2="639.70" stroke="#000" stroke-width="6.40" stroke-linecap="butt"/>
<text transform="translate(606.30 650.30) scale(0.700 1)" font-size="10.90" text-anchor="middle" x="0.00">B</text>
<line x1="606.30" y1="653.40" x2="606.30" y2="662.00" stroke="#000" stroke-width="6.40" stroke-linecap="butt"/>
<circle cx="606.30" cy="672.80" r="7.10" fill="#000"/>
<line x1="606.30" y1="683.10" x2="606.30" y2="692.30" stroke="#000" stroke-width="6.40" stroke-linecap="butt"/>
<polyline points="616.70,672.80 639.00,672.80 639.00,653.40" fill="none" stroke="#000" stroke-width="6.20" stroke-linejoin="miter"/>
<text transform="translate(639.00 650.30) scale(0.700 1)" font-size="10.90" text-anchor="middle" x="0.00">B</text>
<polyline points="639.00,639.60 639.00,623.80 671.70,623.80 671.70,639.60" fill="none" stroke="#000" stroke-width="6.20" stroke-linejoin="miter"/>
<text transform="translate(671.70 650.30) scale(0.700 1)" font-size="10.90" text-anchor="middle" x="0.00">B</text>
<line x1="671.70" y1="653.40" x2="671.70" y2="692.30" stroke="#000" stroke-width="6.40" stroke-linecap="butt"/>
<line x1="596.50" y1="692.70" x2="616.10" y2="692.70" stroke="#000" stroke-width="1.30" stroke-linecap="butt"/>
<line x1="599.70" y1="696.00" x2="612.90" y2="696.00" stroke="#000" stroke-width="1.20" stroke-linecap="butt"/>
<line x1="602.90" y1="698.90" x2="609.70" y2="698.90" stroke="#000" stroke-width="1.20" stroke-linecap="butt"/>
<rect x="593.20" y="702.50" width="26.20" height="12.30" rx="6.15" ry="6.15" fill="#fff" stroke="#000" stroke-width="1.40"/>
<text transform="translate(601.20 712.55) scale(0.616 1.000)" font-size="10.90" text-anchor="middle" x="0">M</text>
<text transform="translate(606.30 712.55) scale(0.700 1)" font-size="10.90" text-anchor="middle" x="0.00 7.29">69</text>
<line x1="661.90" y1="692.70" x2="681.50" y2="692.70" stroke="#000" stroke-width="1.30" stroke-linecap="butt"/>
<line x1="665.10" y1="696.00" x2="678.30" y2="696.00" stroke="#000" stroke-width="1.20" stroke-linecap="butt"/>
<line x1="668.30" y1="698.90" x2="675.10" y2="698.90" stroke="#000" stroke-width="1.20" stroke-linecap="butt"/>
<rect x="658.60" y="702.50" width="26.20" height="12.30" rx="6.15" ry="6.15" fill="#fff" stroke="#000" stroke-width="1.40"/>
<text transform="translate(666.60 712.55) scale(0.616 1.000)" font-size="10.90" text-anchor="middle" x="0">M</text>
<text transform="translate(671.70 712.55) scale(0.700 1)" font-size="10.90" text-anchor="middle" x="0.00 7.29">36</text>
<line x1="0.00" y1="724.50" x2="719.00" y2="724.50" stroke="#222" stroke-width="1.60" stroke-linecap="butt"/>
<line x1="540.90" y1="732.00" x2="540.90" y2="934.00" stroke="#222" stroke-width="1.70" stroke-linecap="butt"/>
<text font-size="10.40" x="547.50 557.70 567.90" y="742.80">参照先</text>
<rect x="547.70" y="748.20" width="25.70" height="12.50" rx="6.25" ry="6.25" fill="#fff" stroke="#000" stroke-width="1.40"/>
<text transform="translate(555.45 758.35) scale(0.616 1.000)" font-size="10.90" text-anchor="middle" x="0">M</text>
<text transform="translate(560.55 758.35) scale(0.700 1)" font-size="10.90" text-anchor="middle" x="0.00 7.29">73</text>
<text transform="translate(582.35 758.40) scale(1.330 1.000)" font-size="10.90" text-anchor="middle" x="0">-</text>
<text transform="translate(587.45 758.40) scale(0.700 1)" font-size="10.90" text-anchor="middle" x="0.00">S</text>
<text transform="translate(592.55 758.40) scale(0.616 1.000)" font-size="10.90" text-anchor="middle" x="0">M</text>
<text transform="translate(597.65 758.40) scale(0.700 1)" font-size="10.90" text-anchor="middle" x="0.00">J</text>
<text transform="translate(550.45 770.91) scale(0.700 0.780)" font-size="10.90" text-anchor="middle" x="0">(</text>
<text transform="translate(552.63 772.30) scale(0.95 1)" font-size="10.40" x="0 10.25 20.51 30.76 41.01 51.26 61.52 71.77 82.02 92.28 102.53 112.78 123.04 133.29 143.54 153.79" y="0">スーパーマルチプルジャンクション</text>
<text transform="translate(710.45 770.91) scale(0.700 0.780)" font-size="10.90" text-anchor="middle" x="0">)</text>
<rect x="547.70" y="778.00" width="25.70" height="12.20" rx="6.10" ry="6.10" fill="#fff" stroke="#000" stroke-width="1.40"/>
<text transform="translate(555.45 788.00) scale(0.616 1.000)" font-size="10.90" text-anchor="middle" x="0">M</text>
<text transform="translate(560.55 788.00) scale(0.700 1)" font-size="10.90" text-anchor="middle" x="0.00 7.29">76</text>
<text transform="translate(577.80 788.00) scale(0.700 1)" font-size="10.90" text-anchor="middle" x="0.00">.</text>
<rect x="583.90" y="778.00" width="25.20" height="12.20" rx="6.10" ry="6.10" fill="#fff" stroke="#000" stroke-width="1.40"/>
<text transform="translate(591.40 788.00) scale(0.616 1.000)" font-size="10.90" text-anchor="middle" x="0">M</text>
<text transform="translate(596.50 788.00) scale(0.700 1)" font-size="10.90" text-anchor="middle" x="0.00 7.29">78</text>
<text transform="translate(549.75 801.20) scale(1.330 1.000)" font-size="10.90" text-anchor="middle" x="0">-</text>
<text font-size="10.40" x="552.84 563.12 573.40 583.68 593.96 604.24 614.52 624.80 635.08 645.36 655.64" y="801.40">エレクトリカルユニット</text>
<rect x="11.40" y="741.50" width="131.20" height="41.90" fill="none" stroke="#000" stroke-width="1.30"/>
<line x1="21.60" y1="741.50" x2="12.00" y2="783.40" stroke="#000" stroke-width="1.20" stroke-linecap="butt"/>
<line x1="132.60" y1="741.50" x2="142.20" y2="783.40" stroke="#000" stroke-width="1.20" stroke-linecap="butt"/>
<rect x="24.00" y="747.60" width="105.40" height="12.90" fill="none" stroke="#000" stroke-width="1.10"/>
<rect x="24.00" y="764.80" width="105.40" height="12.80" fill="none" stroke="#000" stroke-width="1.10"/>
<line x1="24.00" y1="762.65" x2="129.40" y2="762.65" stroke="#000" stroke-width="0.80" stroke-linecap="butt"/>
<line x1="37.17" y1="747.60" x2="37.17" y2="760.50" stroke="#000" stroke-width="1.10" stroke-linecap="butt"/>
<line x1="37.17" y1="764.80" x2="37.17" y2="777.60" stroke="#000" stroke-width="1.10" stroke-linecap="butt"/>
<line x1="50.35" y1="747.60" x2="50.35" y2="760.50" stroke="#000" stroke-width="1.10" stroke-linecap="butt"/>
<line x1="50.35" y1="764.80" x2="50.35" y2="777.60" stroke="#000" stroke-width="1.10" stroke-linecap="butt"/>
<line x1="63.53" y1="747.60" x2="63.53" y2="760.50" stroke="#000" stroke-width="1.10" stroke-linecap="butt"/>
<line x1="63.53" y1="764.80" x2="63.53" y2="777.60" stroke="#000" stroke-width="1.10" stroke-linecap="butt"/>
<line x1="76.70" y1="747.60" x2="76.70" y2="760.50" stroke="#000" stroke-width="1.10" stroke-linecap="butt"/>
<line x1="76.70" y1="764.80" x2="76.70" y2="777.60" stroke="#000" stroke-width="1.10" stroke-linecap="butt"/>
<line x1="89.88" y1="747.60" x2="89.88" y2="760.50" stroke="#000" stroke-width="1.10" stroke-linecap="butt"/>
<line x1="89.88" y1="764.80" x2="89.88" y2="777.60" stroke="#000" stroke-width="1.10" stroke-linecap="butt"/>
<line x1="103.05" y1="747.60" x2="103.05" y2="760.50" stroke="#000" stroke-width="1.10" stroke-linecap="butt"/>
<line x1="103.05" y1="764.80" x2="103.05" y2="777.60" stroke="#000" stroke-width="1.10" stroke-linecap="butt"/>
<line x1="116.23" y1="747.60" x2="116.23" y2="760.50" stroke="#000" stroke-width="1.10" stroke-linecap="butt"/>
<line x1="116.23" y1="764.80" x2="116.23" y2="777.60" stroke="#000" stroke-width="1.10" stroke-linecap="butt"/>
<text transform="translate(28.14 758.10) scale(0.680 1)" font-size="11.20" text-anchor="middle" x="0.00 7.21">16</text>
<text transform="translate(41.31 758.10) scale(0.680 1)" font-size="11.20" text-anchor="middle" x="0.00 7.21">15</text>
<text transform="translate(54.49 758.10) scale(0.680 1)" font-size="11.20" text-anchor="middle" x="0.00 7.21">14</text>
<text transform="translate(67.66 758.10) scale(0.680 1)" font-size="11.20" text-anchor="middle" x="0.00 7.21">13</text>
<text transform="translate(80.84 758.10) scale(0.680 1)" font-size="11.20" text-anchor="middle" x="0.00 7.21">12</text>
<text transform="translate(94.01 758.10) scale(0.680 1)" font-size="11.20" text-anchor="middle" x="0.00 7.21">11</text>
<text transform="translate(107.19 758.10) scale(0.680 1)" font-size="11.20" text-anchor="middle" x="0.00 7.21">10</text>
<text transform="translate(122.81 758.10) scale(0.680 1)" font-size="11.20" text-anchor="middle" x="0.00">9</text>
<text transform="translate(30.59 774.80) scale(0.700 1)" font-size="11.20" text-anchor="middle" x="0.00">8</text>
<text transform="translate(43.76 774.80) scale(0.700 1)" font-size="11.20" text-anchor="middle" x="0.00">7</text>
<text transform="translate(56.94 774.80) scale(0.700 1)" font-size="11.20" text-anchor="middle" x="0.00">6</text>
<text transform="translate(70.11 774.80) scale(0.700 1)" font-size="11.20" text-anchor="middle" x="0.00">5</text>
<text transform="translate(83.29 774.80) scale(0.700 1)" font-size="11.20" text-anchor="middle" x="0.00">4</text>
<text transform="translate(96.46 774.80) scale(0.700 1)" font-size="11.20" text-anchor="middle" x="0.00">3</text>
<text transform="translate(109.64 774.80) scale(0.700 1)" font-size="11.20" text-anchor="middle" x="0.00">2</text>
<text transform="translate(122.81 774.80) scale(0.700 1)" font-size="11.20" text-anchor="middle" x="0.00">1</text>
<rect x="148.90" y="754.70" width="26.50" height="12.80" rx="6.40" ry="6.40" fill="#fff" stroke="#000" stroke-width="1.40"/>
<text transform="translate(159.60 765.00) scale(0.616 1.000)" font-size="10.90" text-anchor="middle" x="0">M</text>
<text transform="translate(164.70 765.00) scale(0.700 1)" font-size="10.90" text-anchor="middle" x="0.00">4</text>
<text transform="translate(162.10 777.60) scale(0.560 1.000)" font-size="10.90" text-anchor="middle" x="0">W</text>
<polyline points="201.00,748.10 240.37,748.10 240.37,751.30 266.61,751.30 266.61,748.10 319.10,748.10 319.10,774.00 201.00,774.00 201.00,748.10" fill="none" stroke="#000" stroke-width="1.30" stroke-linejoin="miter"/>
<line x1="201.00" y1="760.70" x2="319.10" y2="760.70" stroke="#000" stroke-width="1.20" stroke-linecap="butt"/>
<line x1="214.12" y1="760.70" x2="214.12" y2="774.00" stroke="#000" stroke-width="1.20" stroke-linecap="butt"/>
<line x1="227.24" y1="760.70" x2="227.24" y2="774.00" stroke="#000" stroke-width="1.20" stroke-linecap="butt"/>
<line x1="240.37" y1="760.70" x2="240.37" y2="774.00" stroke="#000" stroke-width="1.20" stroke-linecap="butt"/>
<line x1="253.49" y1="760.70" x2="253.49" y2="774.00" stroke="#000" stroke-width="1.20" stroke-linecap="butt"/>
<line x1="266.61" y1="760.70" x2="266.61" y2="774.00" stroke="#000" stroke-width="1.20" stroke-linecap="butt"/>
<line x1="279.73" y1="760.70" x2="279.73" y2="774.00" stroke="#000" stroke-width="1.20" stroke-linecap="butt"/>
<line x1="292.86" y1="760.70" x2="292.86" y2="774.00" stroke="#000" stroke-width="1.20" stroke-linecap="butt"/>
<line x1="305.98" y1="760.70" x2="305.98" y2="774.00" stroke="#000" stroke-width="1.20" stroke-linecap="butt"/>
<line x1="214.12" y1="748.10" x2="214.12" y2="760.70" stroke="#000" stroke-width="1.20" stroke-linecap="butt"/>
<line x1="227.24" y1="748.10" x2="227.24" y2="760.70" stroke="#000" stroke-width="1.20" stroke-linecap="butt"/>
<line x1="240.37" y1="748.10" x2="240.37" y2="760.70" stroke="#000" stroke-width="1.20" stroke-linecap="butt"/>
<line x1="266.61" y1="748.10" x2="266.61" y2="760.70" stroke="#000" stroke-width="1.20" stroke-linecap="butt"/>
<line x1="279.73" y1="748.10" x2="279.73" y2="760.70" stroke="#000" stroke-width="1.20" stroke-linecap="butt"/>
<line x1="292.86" y1="748.10" x2="292.86" y2="760.70" stroke="#000" stroke-width="1.20" stroke-linecap="butt"/>
<line x1="305.98" y1="748.10" x2="305.98" y2="760.70" stroke="#000" stroke-width="1.20" stroke-linecap="butt"/>
<rect x="243.40" y="753.90" width="20.30" height="4.50" fill="none" stroke="#000" stroke-width="1.30"/>
<text transform="translate(231.36 758.20) scale(0.680 1)" font-size="11.20" text-anchor="middle" x="0.00 7.21">13</text>
<text transform="translate(273.17 758.20) scale(0.680 1)" font-size="11.20" text-anchor="middle" x="0.00">5</text>
<text transform="translate(286.29 758.20) scale(0.680 1)" font-size="11.20" text-anchor="middle" x="0.00">9</text>
<text transform="translate(299.42 758.20) scale(0.680 1)" font-size="11.20" text-anchor="middle" x="0.00">1</text>
<text transform="translate(312.54 758.20) scale(0.680 1)" font-size="11.20" text-anchor="middle" x="0.00">2</text>
<text transform="translate(205.11 771.10) scale(0.680 1)" font-size="11.20" text-anchor="middle" x="0.00 7.21">14</text>
<text transform="translate(218.23 771.10) scale(0.680 1)" font-size="11.20" text-anchor="middle" x="0.00 7.21">11</text>
<text transform="translate(231.36 771.10) scale(0.680 1)" font-size="11.20" text-anchor="middle" x="0.00 7.21">12</text>
<text transform="translate(246.93 771.10) scale(0.680 1)" font-size="11.20" text-anchor="middle" x="0.00">7</text>
<text transform="translate(260.05 771.10) scale(0.680 1)" font-size="11.20" text-anchor="middle" x="0.00">4</text>
<text transform="translate(273.17 771.10) scale(0.680 1)" font-size="11.20" text-anchor="middle" x="0.00">3</text>
<text transform="translate(286.29 771.10) scale(0.680 1)" font-size="11.20" text-anchor="middle" x="0.00">8</text>
<text transform="translate(299.42 771.10) scale(0.680 1)" font-size="11.20" text-anchor="middle" x="0.00">6</text>
<text transform="translate(310.09 771.10) scale(0.680 1)" font-size="11.20" text-anchor="middle" x="0.00 7.21">10</text>
<rect x="325.80" y="754.70" width="25.10" height="12.40" rx="6.20" ry="6.20" fill="#fff" stroke="#000" stroke-width="1.40"/>
<text transform="translate(333.25 764.80) scale(0.616 1.000)" font-size="10.90" text-anchor="middle" x="0">M</text>
<text transform="translate(338.35 764.80) scale(0.700 1)" font-size="10.90" text-anchor="middle" x="0.00 7.29">25</text>
<text transform="translate(338.50 777.60) scale(0.560 1.000)" font-size="10.90" text-anchor="middle" x="0">W</text>
</svg>
</body></html>
